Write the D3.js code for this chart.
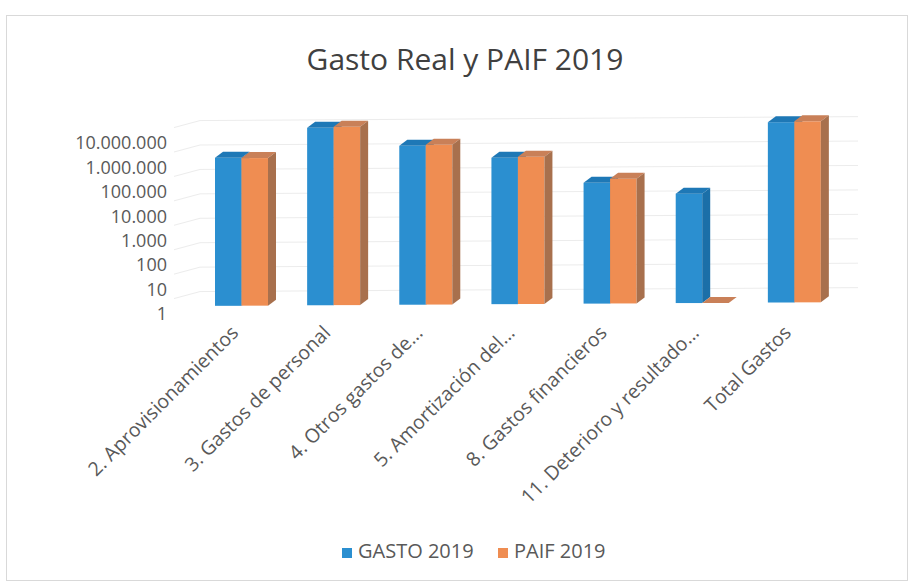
<html>
<head>
    <meta charset="utf-8">
    <script src="https://d3js.org/d3.v7.min.js"></script>
    <style>
        body { margin: 0; background: #fff; }
        text { font-family: "Open Sans", "Noto Sans", sans-serif; }
    </style>
</head>
<body>
    <div id="cont"></div>
    <script>
        // data (log scale)
        var categories = ["2. Aprovisionamientos", "3. Gastos de personal", "4. Otros gastos de...",
            "5. Amortización del...", "8. Gastos financieros", "11. Deterioro y resultado...", "Total Gastos"];
        var series = ["GASTO 2019", "PAIF 2019"];
        var gasto2019 = [1150000, 18300000, 3200000, 980000, 88000, 30000, 24000000];
        var paif2019 = [1100000, 20000000, 3500000, 1070000, 128000, 0, 25800000];
        var tickValues = [1, 10, 100, 1000, 10000, 100000, 1000000, 10000000];
        var tickLabels = ["1", "10", "100", "1.000", "10.000", "100.000", "1.000.000", "10.000.000"];

        var W = 914, H = 585;
        var svg = d3.select("#cont").append("svg")
            .attr("width", W)
            .attr("height", H);

        svg.append("rect")
            .attr("x", 6.5).attr("y", 15.5)
            .attr("width", 901).attr("height", 565)
            .attr("fill", "#fff")
            .attr("stroke", "#d9d9d9");

        svg.append("text")
            .attr("x", 465).attr("y", 70)
            .attr("text-anchor", "middle")
            .attr("font-size", 30)
            .attr("fill", "#404040")
            .text("Gasto Real y PAIF 2019");

        var y = d3.scaleLog().domain([1, 1e7]).range([314, 143]);
        var x = d3.scaleBand().domain(categories).range([199, 844]);
        var xs = d3.scaleBand().domain(series).range([0, 53]);

        var tilt = function (px) { return 0.006 * (px - 200); };
        var depthX = 8, depthY = 6;

        // back wall + side wall gridlines
        var gridVals = tickValues.slice(1).concat([1e8]);
        var grid = svg.append("g")
            .attr("stroke", "#ececec")
            .attr("fill", "none");
        grid.selectAll("path")
            .data(gridVals)
            .enter().append("path")
            .attr("d", function (d) {
                var gy = y(d) + 2;
                return "M174," + (gy + 7) + "L200," + gy + "L858," + (gy - tilt(858));
            });

        // y tick labels
        svg.append("g").selectAll("text")
            .data(tickValues)
            .enter().append("text")
            .attr("x", 167)
            .attr("y", function (d) { return y(d); })
            .attr("dy", "0.35em")
            .attr("text-anchor", "end")
            .attr("font-size", 18)
            .attr("fill", "#595959")
            .text(function (d, i) { return tickLabels[i]; });

        var colors = {
            "GASTO 2019": { front: "#2b8fd0", top: "#1e78b6", side: "#1b6fa8" },
            "PAIF 2019": { front: "#ef8d52", top: "#c98058", side: "#a8704d" }
        };

        var bars = [];
        categories.forEach(function (c, i) {
            bars.push({ cat: c, s: series[0], v: gasto2019[i] });
            bars.push({ cat: c, s: series[1], v: paif2019[i] });
        });

        var g = svg.append("g");
        bars.forEach(function (d) {
            var x0 = x(d.cat) + 16 + xs(d.s);
            var w = xs.bandwidth();
            var base = y(1) - 8 - tilt(x0 + 15);
            var top = y(Math.max(d.v, 1)) - 8 - tilt(x0 + 15);
            var col = colors[d.s];
            // front face
            g.append("rect")
                .attr("x", x0).attr("y", top)
                .attr("width", w).attr("height", base - top)
                .attr("fill", col.front);
            // top face
            g.append("path")
                .attr("d", "M" + x0 + "," + top + "L" + (x0 + depthX) + "," + (top - depthY) +
                    "L" + (x0 + w + depthX) + "," + (top - depthY) + "L" + (x0 + w) + "," + top + "Z")
                .attr("fill", col.top);
            // side face
            g.append("path")
                .attr("d", "M" + (x0 + w) + "," + top + "L" + (x0 + w + depthX) + "," + (top - depthY) +
                    "L" + (x0 + w + depthX) + "," + (base - depthY) + "L" + (x0 + w) + "," + base + "Z")
                .attr("fill", col.side);
        });

        // category labels, rotated
        svg.append("g").selectAll("text")
            .data(categories)
            .enter().append("text")
            .attr("transform", function (d) {
                return "translate(" + (x(d) + 16 + 53 / 2 - 2) + ",334) rotate(-45)";
            })
            .attr("text-anchor", "end")
            .attr("font-size", 19.5)
            .attr("fill", "#595959")
            .text(function (d) { return d; });

        // legend
        var legend = svg.append("g");
        var legX = [342, 498];
        series.forEach(function (s, i) {
            legend.append("rect")
                .attr("x", legX[i]).attr("y", 548)
                .attr("width", 10).attr("height", 10)
                .attr("fill", colors[s].front);
            legend.append("text")
                .attr("x", legX[i] + 16).attr("y", 558)
                .attr("font-size", 20)
                .attr("fill", "#595959")
                .text(s);
        });
    </script>
</body>
</html>
